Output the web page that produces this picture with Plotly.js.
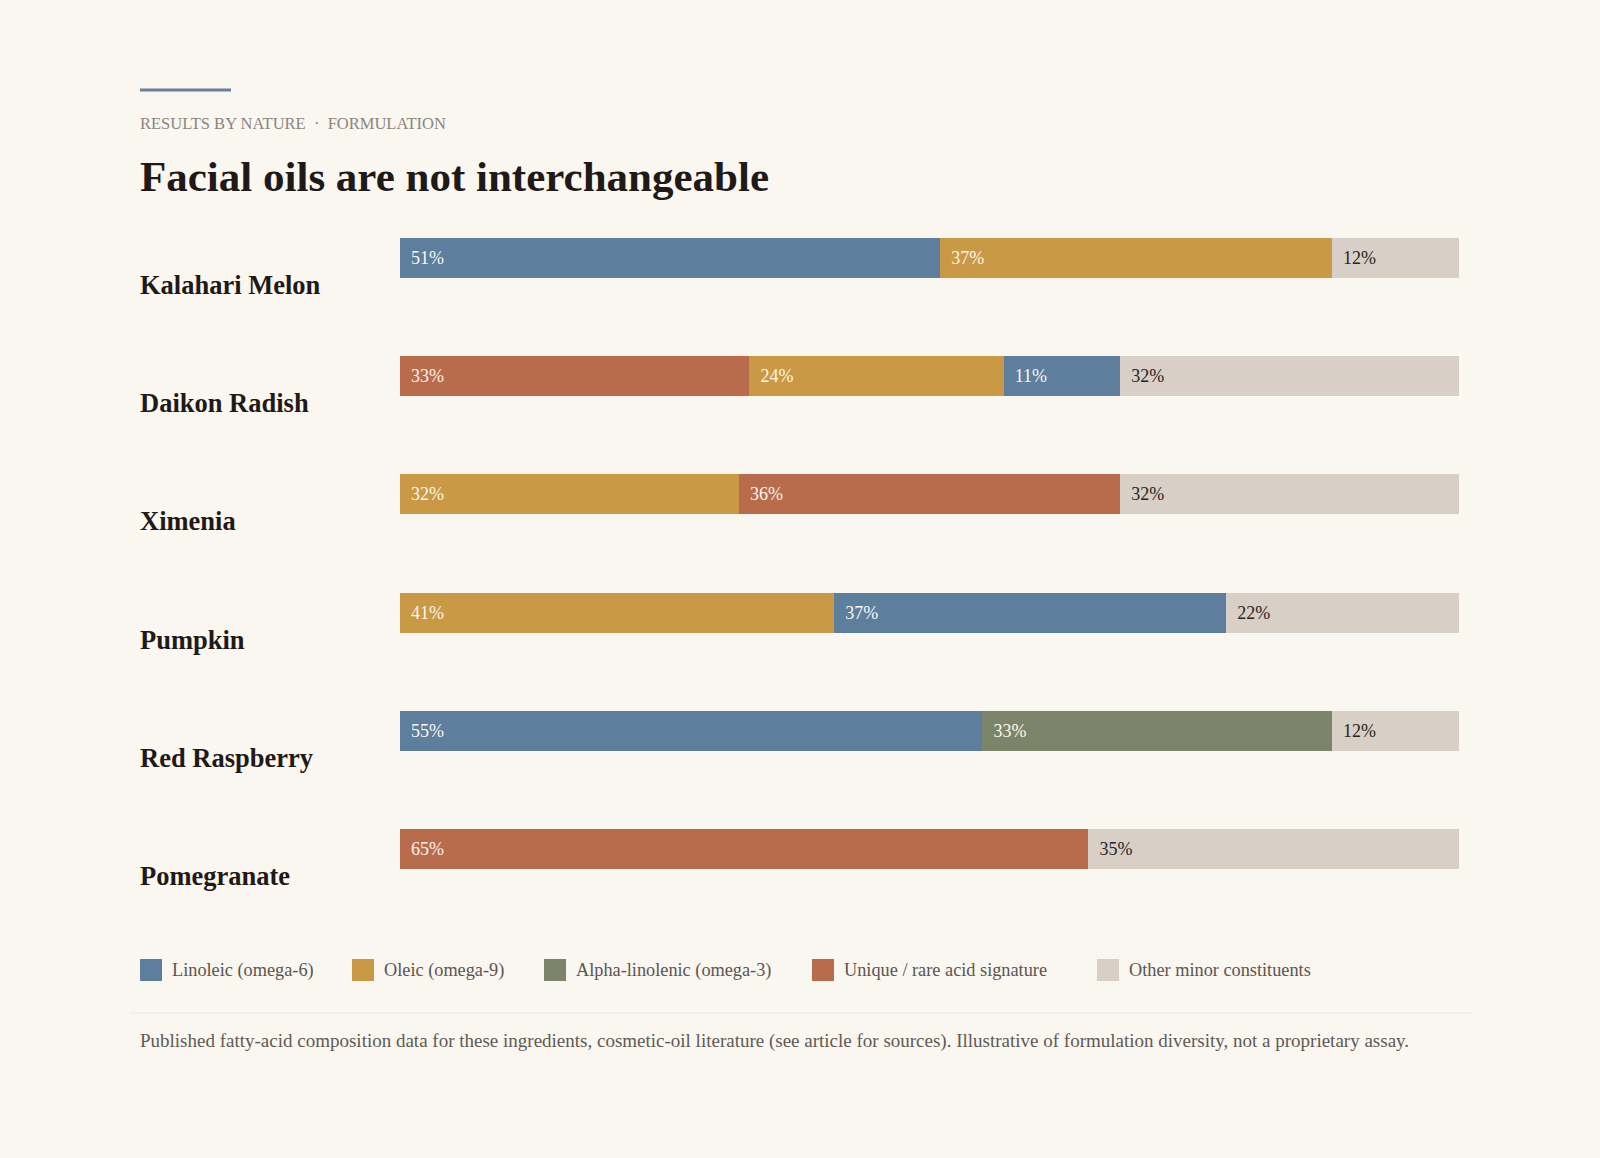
<!DOCTYPE html>
<html>
<head>
<meta charset="utf-8">
<script src="https://cdn.plot.ly/plotly-3.0.1.min.js"></script>
<style>
  html, body { margin: 0; padding: 0; background: #FAF6F0; }
  #chart { width: 1600px; height: 1158px; }
</style>
</head>
<body>
<div id="chart"></div>
<script>
// ---- Data ----
const categories = ['Kalahari Melon', 'Daikon Radish', 'Ximenia', 'Pumpkin', 'Red Raspberry', 'Pomegranate'];
const seriesNames = ['Linoleic (omega-6)', 'Oleic (omega-9)', 'Alpha-linolenic (omega-3)', 'Unique / rare acid signature', 'Other minor constituents'];
const seriesColors = ['#5E7E9E', '#C99945', '#7C8569', '#B86C4B', '#D8CFC6'];
// per-row segment order (index into seriesNames) and values (%)
const segmentSeries = [[0, 1, 4], [3, 1, 0, 4], [1, 3, 4], [1, 0, 4], [0, 2, 4], [3, 4]];
const segmentValues = [[51, 37, 12], [33, 24, 11, 32], [32, 36, 32], [41, 37, 22], [55, 33, 12], [65, 35]];
const kicker = 'RESULTS BY NATURE\u2002\u00b7\u2002FORMULATION';
const titleText = 'Facial oils are not interchangeable';
const footnote = 'Published fatty-acid composition data for these ingredients, cosmetic-oil literature (see article for sources). Illustrative of formulation diversity, not a proprietary assay.';

// ---- Layout geometry ----
const W = 1600, H = 1158;
const M = { l: 400, r: 141, t: 199, b: 250 };
const PW = W - M.l - M.r, PH = H - M.t - M.b;
const px = x => (x - M.l) / PW;
const py = y => 1 - (y - M.t) / PH;
const SERIF = '"Liberation Serif", "DejaVu Serif", serif';
const OTHER = 4;
const LEFT = 138;

const maxSlots = Math.max(...segmentValues.map(r => r.length));
const traces = [];
for (let k = 0; k < maxSlots; k++) {
  const xs = [], colors = [], texts = [], tcolors = [];
  categories.forEach((c, i) => {
    const v = segmentValues[i][k];
    const s = segmentSeries[i][k];
    if (v === undefined) {
      xs.push(null); colors.push('rgba(0,0,0,0)'); texts.push(''); tcolors.push('#000');
    } else {
      xs.push(v);
      colors.push(seriesColors[s]);
      texts.push('\u00a0\u2009' + v + '%');
      tcolors.push(s === OTHER ? '#2B2420' : '#FBF6EE');
    }
  });
  traces.push({
    type: 'bar', orientation: 'h', y: categories, x: xs,
    marker: { color: colors, line: { width: 0 } },
    text: texts, textposition: 'inside', insidetextanchor: 'start', textangle: 0,
    constraintext: 'none',
    insidetextfont: { family: SERIF, size: 18, color: tcolors },
    hoverinfo: 'skip', showlegend: false, cliponaxis: false
  });
}

const annotations = [];
const shapes = [];

// kicker
annotations.push({ xref: 'paper', yref: 'paper', x: px(LEFT), y: py(124), xanchor: 'left', yanchor: 'middle',
  text: kicker, showarrow: false, font: { family: SERIF, size: 16.5, color: '#8A8580' } });

// category labels
categories.forEach(c => {
  annotations.push({ xref: 'paper', yref: 'y', x: px(LEFT), y: c, yshift: -27, xanchor: 'left', yanchor: 'middle',
    text: '<b>' + c + '</b>', showarrow: false, font: { family: SERIF, size: 26.5, color: '#1F1A17' } });
});

// legend
const legendX = [140, 352, 544, 812, 1097];
const legY = 970, sw = 22;
seriesNames.forEach((n, i) => {
  shapes.push({ type: 'rect', xref: 'paper', yref: 'paper', x0: px(legendX[i]), x1: px(legendX[i] + sw),
    y0: py(legY - sw / 2), y1: py(legY + sw / 2), fillcolor: seriesColors[i], line: { width: 0 } });
  annotations.push({ xref: 'paper', yref: 'paper', x: px(legendX[i] + 30), y: py(legY), xanchor: 'left', yanchor: 'middle',
    text: n, showarrow: false, font: { family: SERIF, size: 18.3, color: '#5A5550' } });
});

// top rule
shapes.push({ type: 'line', xref: 'paper', yref: 'paper', x0: px(140), x1: px(231), y0: py(90), y1: py(90),
  line: { color: '#6A7F99', width: 3 } });
// separator
shapes.push({ type: 'line', xref: 'paper', yref: 'paper', x0: px(130), x1: px(1471), y0: py(1013), y1: py(1013),
  line: { color: '#ECE6DE', width: 1 } });
// footnote
annotations.push({ xref: 'paper', yref: 'paper', x: px(LEFT), y: py(1041), xanchor: 'left', yanchor: 'middle',
  text: footnote, showarrow: false, font: { family: SERIF, size: 19, color: '#5F5A55' } });

const layout = {
  width: W, height: H,
  margin: M,
  paper_bgcolor: '#FAF6F0', plot_bgcolor: '#FAF6F0',
  barmode: 'stack', bargap: 0.662,
  title: { text: '<b>' + titleText + '</b>', xref: 'container', yref: 'container', x: 140 / W, xanchor: 'left',
    y: 1 - 176 / H, yanchor: 'middle', font: { family: SERIF, size: 43, color: '#1F1A17' } },
  xaxis: { range: [0, 100], visible: false, fixedrange: true },
  yaxis: { type: 'category', range: [5.5, -0.5], showticklabels: false, showgrid: false, zeroline: false, showline: false, fixedrange: true },
  hovermode: false, showlegend: false,
  annotations: annotations, shapes: shapes
};

Plotly.newPlot('chart', traces, layout, { displayModeBar: false, staticPlot: true });
</script>
</body>
</html>
